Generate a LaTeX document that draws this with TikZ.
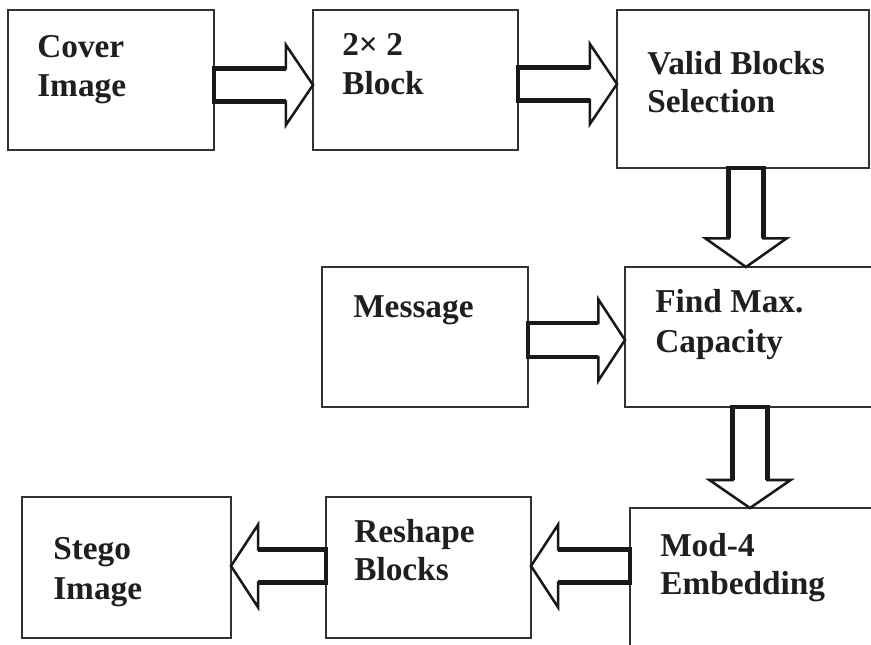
\documentclass[tikz,border=0pt]{standalone}
\usepackage{fontspec}
\setmainfont{Liberation Serif}
\usetikzlibrary{calc}

\tikzset{
  box/.style={draw=black!80, line width=1.1pt, rectangle, inner sep=0pt,
              outer sep=0pt, anchor=north west},
  lbl/.style={anchor=base west, inner sep=0pt, text=black!88,
              font=\fontsize{25}{29}\selectfont\bfseries},
  arrowbody/.style={draw=black!90, fill=white, line width=1.9pt, line join=miter},
  arrowshaft/.style={draw=black!90, line width=3.4pt, line join=miter},
}

% hollow block arrow: #1 back point, #2 tip point,
% #3 half shaft width, #4 half head width, #5 head length
\newcommand\fatarrow[5]{%
  \path ($(#1)!#3!90:(#2)$)  coordinate (fa-s1)
        ($(#1)!#3!-90:(#2)$) coordinate (fa-s2)
        ($(#2)!#5!(#1)$)     coordinate (fa-h);
  \path ($(fa-h)!#3!90:(#2)$)  coordinate (fa-c1)
        ($(fa-h)!#3!-90:(#2)$) coordinate (fa-c2)
        ($(fa-h)!#4!90:(#2)$)  coordinate (fa-w1)
        ($(fa-h)!#4!-90:(#2)$) coordinate (fa-w2);
  \draw[arrowbody] (fa-s1) -- (fa-c1) -- (fa-w1) -- (#2) -- (fa-w2)
        -- (fa-c2) -- (fa-s2) -- cycle;
  \draw[arrowshaft] (fa-c1) -- (fa-s1) -- (fa-s2) -- (fa-c2);
}

\newcommand\boxat[5]{%
  \node[box, minimum width=#4*0.75pt, minimum height=#5*0.75pt] (#1) at (#2,#3) {};}

\begin{document}
\begin{tikzpicture}[x=0.75pt, y=-0.75pt]
  \useasboundingbox (0,0) rectangle (871,645);
  \clip (0,0) rectangle (871,645);
  \fill[white] (0,0) rectangle (871,645);

  % process boxes
  \boxat{cover}{8}{10}{206}{140}
  \boxat{block}{313}{10}{205}{140}
  \boxat{valid}{617}{10}{252}{158}
  \boxat{msg}{322}{267}{206}{140}
  \boxat{find}{625}{267}{260}{140}
  \boxat{stego}{22}{497}{209}{141}
  \boxat{reshape}{326}{497}{205}{141}
  \boxat{embed}{630}{508}{260}{160}

  % box captions
  \node[lbl] (coverA) at (37,58) {Cover};
  \node[lbl] (coverB) at (37,97) {Image};
  \node[lbl] (blockA) at (342,56) {2× 2};
  \node[lbl] (blockB) at (342,95) {Block};
  \node[lbl] (validA) at (647,75) {Valid Blocks};
  \node[lbl] (validB) at (647,113) {Selection};
  \node[lbl] (msgA) at (353,317) {Message};
  \node[lbl] (findA) at (655,313) {Find Max.};
  \node[lbl] (findB) at (655,352) {Capacity};
  \node[lbl] (stegoA) at (53,559) {Stego};
  \node[lbl] (stegoB) at (53,599) {Image};
  \node[lbl] (reshapeA) at (354,542) {Reshape};
  \node[lbl] (reshapeB) at (354,580) {Blocks};
  \node[lbl] (embedA) at (660,556) {Mod-4};
  \node[lbl] (embedB) at (660,594) {Embedding};

  % arrow axes
  \coordinate (r1) at (0,85);
  \coordinate (r2) at (0,84);
  \coordinate (r3) at (0,340);
  \coordinate (r4) at (0,566);
  \coordinate (d1) at (746,0);
  \coordinate (d2) at (750,0);

  % flow arrows
  \fatarrow{cover.east |- r1}{block.west |- r1}{12.4pt}{30pt}{20.3pt}
  \fatarrow{block.east |- r2}{valid.west |- r2}{12.2pt}{30pt}{20.3pt}
  \fatarrow{valid.south -| d1}{find.north -| d1}{13pt}{30.5pt}{21.5pt}
  \fatarrow{msg.east |- r3}{find.west |- r3}{12.8pt}{30.5pt}{20pt}
  \fatarrow{find.south -| d2}{embed.north -| d2}{13pt}{30.5pt}{21pt}
  \fatarrow{embed.west |- r4}{reshape.east |- r4}{12.4pt}{31pt}{20.3pt}
  \fatarrow{reshape.west |- r4}{stego.east |- r4}{12.4pt}{31pt}{20.3pt}
\end{tikzpicture}
\end{document}
